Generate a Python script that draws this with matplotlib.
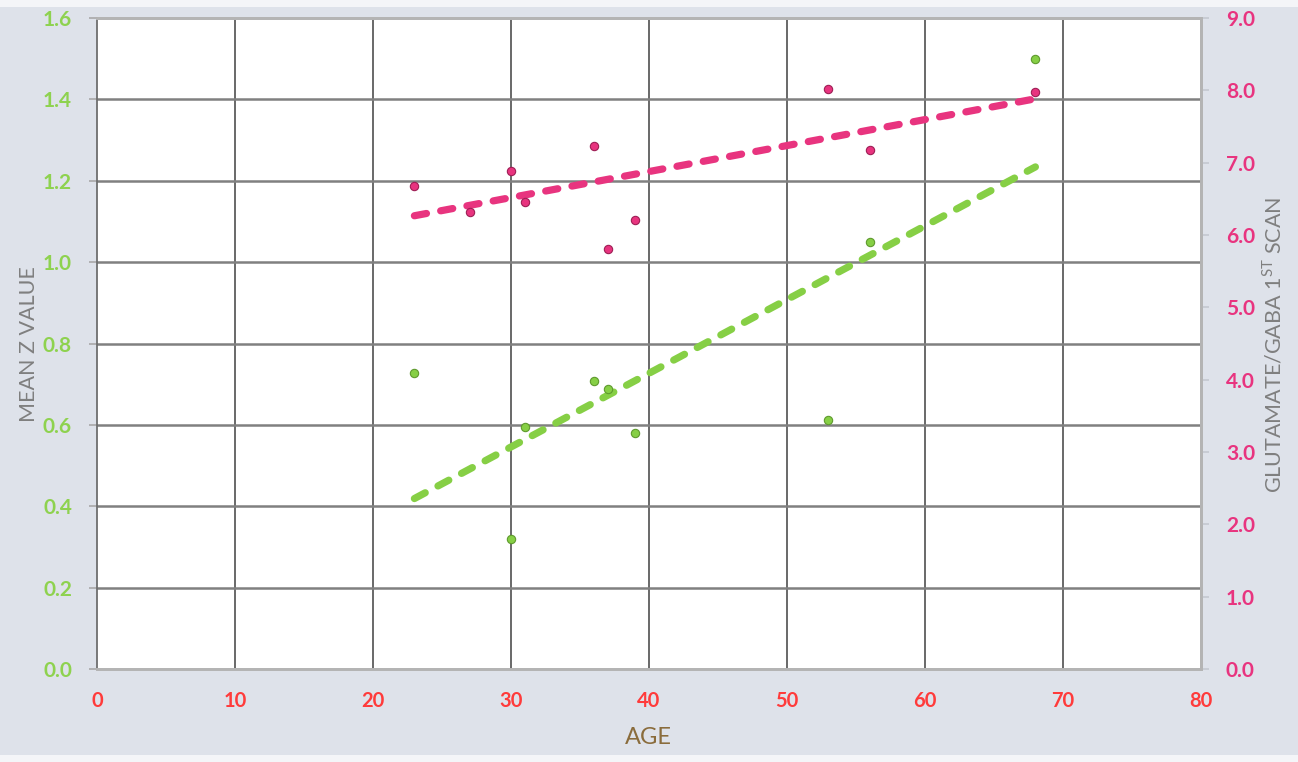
import numpy as np
import matplotlib.pyplot as plt
from matplotlib.patches import Rectangle

# ----------------------------
# Dados
# ----------------------------
idade_z = [23, 30, 31, 36, 37, 39, 53, 56, 68]
mean_z = [0.727, 0.319, 0.595, 0.708, 0.688, 0.580, 0.612, 1.049, 1.499]

idade_glu = [23, 27, 30, 31, 36, 37, 39, 53, 56, 68]
glu_gaba = [6.68, 6.32, 6.89, 6.45, 7.23, 5.81, 6.21, 8.02, 7.18, 7.98]

x_ticks = [0, 10, 20, 30, 40, 50, 60, 70, 80]
z_ticks = [0.0, 0.2, 0.4, 0.6, 0.8, 1.0, 1.2, 1.4, 1.6]
g_ticks = [0, 1, 2, 3, 4, 5, 6, 7, 8, 9]

verde = "#86cf45"
rosa = "#e8347f"

plt.rcParams["font.family"] = ["Lato", "DejaVu Sans"]

fig = plt.figure(figsize=(12.98, 7.62), dpi=100, facecolor="#f4f5f8")
fig.patches.append(Rectangle((0, 7 / 762), 1, 748 / 762, transform=fig.transFigure,
                             facecolor="#dee2ea", edgecolor="none", zorder=-10))

ax = fig.add_axes([97 / 1298, 93 / 762, 1104 / 1298, 651 / 762])
ax.set_facecolor("white")
ax2 = ax.twinx()

# linhas de grade
ax.set_axisbelow(True)
for xv in x_ticks[1:-1]:
    ax.axvline(xv, color="#404040", lw=1.1, zorder=0)
for yv in z_ticks[1:-1]:
    ax.axhline(yv, color="#808080", lw=1.8, zorder=0)

# pontos
ax.scatter(idade_z, mean_z, s=36, color=verde, edgecolor="#5f9a2e", linewidth=0.8, zorder=4)
ax2.scatter(idade_glu, glu_gaba, s=36, color=rosa, edgecolor="#9e1f55", linewidth=0.8, zorder=4)

# linhas de tendência (mínimos quadrados)
a1, b1 = np.polyfit(idade_z, mean_z, 1)
xs1 = np.array([min(idade_z), max(idade_z)])
ax.plot(xs1, a1 * xs1 + b1, color=verde, lw=5.2, dashes=(1.7, 2.0),
        dash_capstyle="round", zorder=3)

a2, b2 = np.polyfit(idade_glu, glu_gaba, 1)
xs2 = np.array([min(idade_glu), max(idade_glu)])
ax2.plot(xs2, a2 * xs2 + b2, color=rosa, lw=5.2, dashes=(1.7, 2.0),
         dash_capstyle="round", zorder=3)

# eixos
ax.set_xlim(0, 80)
ax.set_ylim(0, 1.6)
ax2.set_ylim(0, 9)
ax.set_xticks(x_ticks)
ax.set_yticks(z_ticks)
ax.set_yticklabels([f"{v:.1f}" for v in z_ticks])
ax2.set_yticks(g_ticks)
ax2.set_yticklabels([f"{v:.1f}" for v in g_ticks])

ax.tick_params(axis="x", length=0, pad=16, labelsize=14.5, labelcolor="#ff3b3b")
ax.tick_params(axis="y", length=6, width=1.2, color="#a8a8a8", pad=12,
               labelsize=15, labelcolor="#8ed24f")
ax2.tick_params(axis="y", length=6, width=1.2, color="#c4c8d0", pad=12,
                labelsize=15, labelcolor=rosa)
for lab in ax.get_xticklabels() + ax.get_yticklabels() + ax2.get_yticklabels():
    lab.set_fontweight("bold")

for a in (ax, ax2):
    for s in a.spines.values():
        s.set_color("#b4b4b4")
        s.set_linewidth(2)
ax.spines["left"].set_color("#6e6e6e")
ax.spines["left"].set_linewidth(1.3)
ax2.spines["left"].set_visible(False)

ax.set_xlabel("AGE", fontsize=17, color="#8a6c3c")
ax.xaxis.set_label_coords((648 - 97) / 1104, -(727 - 669) / 651)
ax.set_ylabel("MEAN Z VALUE", fontsize=15.5, color="#7f7f7f")
ax.yaxis.set_label_coords((39 - 97) / 1104, (669 - 344) / 651)
ax2.set_ylabel("GLUTAMATE/GABA 1$^{\\mathregular{ST}}$ SCAN", fontsize=15.5,
               color="#7f7f7f", rotation=90)
ax2.yaxis.set_label_coords((1261 - 97) / 1104, (669 - 345) / 651)

fig.savefig("out.png", dpi=100, facecolor=fig.get_facecolor())
